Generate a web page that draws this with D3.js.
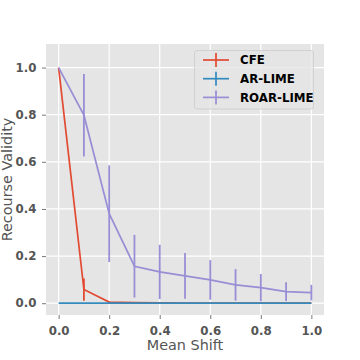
<!DOCTYPE html>
<html>
<head>
<meta charset="UTF-8">
<title>recourse validity</title>
<script src="https://cdn.jsdelivr.net/npm/d3@7"></script>
<style>
  body { margin: 0; background: #fff; }
  text { font-family: "DejaVu Sans", sans-serif; }
</style>
</head>
<body>
<svg id="chart" width="360" height="360"></svg>
<script>
// data
const shifts = [0.0, 0.1, 0.2, 0.3, 0.4, 0.5, 0.6, 0.7, 0.8, 0.9, 1.0];
const cfeMean = [1.0, 0.058, 0.005, 0.003, 0.002, 0.001, 0.001, 0.001, 0.0, 0.0, 0.0];
const cfeErr = [0.0, 0.047, 0.003, 0.0, 0.0, 0.0, 0.0, 0.0, 0.0, 0.0, 0.0];
const arMean = [0, 0, 0, 0, 0, 0, 0, 0, 0, 0, 0];
const arErr = [0, 0, 0, 0, 0, 0, 0, 0, 0, 0, 0];
const roarMean = [1.0, 0.798, 0.38, 0.157, 0.133, 0.116, 0.099, 0.078, 0.066, 0.049, 0.045];
const roarErr = [0.0, 0.175, 0.205, 0.133, 0.115, 0.097, 0.084, 0.067, 0.058, 0.040, 0.033];
const seriesNames = ["CFE", "AR-LIME", "ROAR-LIME"];
const xTicks = [0.0, 0.2, 0.4, 0.6, 0.8, 1.0];
const yTicks = [0.0, 0.2, 0.4, 0.6, 0.8, 1.0];

const colors = ["#E24A33", "#348ABD", "#988ED5"];
const series = [
  { name: seriesNames[0], mean: cfeMean, err: cfeErr },
  { name: seriesNames[1], mean: arMean, err: arErr },
  { name: seriesNames[2], mean: roarMean, err: roarErr }
];

const svg = d3.select("#chart");
const mLeft = 46, mRight = 324, mTop = 44, mBottom = 315;

const x = d3.scaleLinear().domain([-0.05, 1.05]).range([mLeft, mRight]);
const y = d3.scaleLinear().domain([-0.05, 1.1]).range([mBottom, mTop]);

// panel background
svg.append("rect")
  .attr("x", mLeft).attr("y", mTop)
  .attr("width", mRight - mLeft).attr("height", mBottom - mTop)
  .attr("fill", "#E5E5E5");

// grid
svg.append("g").selectAll("line").data(xTicks).join("line")
  .attr("x1", d => x(d)).attr("x2", d => x(d))
  .attr("y1", mTop).attr("y2", mBottom)
  .attr("stroke", "#fff").attr("stroke-width", 1.2);
svg.append("g").selectAll("line").data(yTicks).join("line")
  .attr("y1", d => y(d)).attr("y2", d => y(d))
  .attr("x1", mLeft).attr("x2", mRight)
  .attr("stroke", "#fff").attr("stroke-width", 1.2);

// axes
const xAxis = svg.append("g")
  .attr("transform", `translate(0,${mBottom})`)
  .call(d3.axisBottom(x).tickValues(xTicks).tickFormat(d3.format(".1f")).tickSize(4).tickPadding(7.5));
const yAxis = svg.append("g")
  .attr("transform", `translate(${mLeft},0)`)
  .call(d3.axisLeft(y).tickValues(yTicks).tickFormat(d3.format(".1f")).tickSize(4).tickPadding(5.5));
[xAxis, yAxis].forEach(g => {
  g.select(".domain").remove();
  g.selectAll(".tick line").attr("stroke", "#555").attr("stroke-width", 0.8);
  g.selectAll(".tick text")
    .attr("fill", "#555")
    .style("font-family", "DejaVu Sans")
    .style("font-size", "11.8px")
    .style("font-weight", "bold");
});

// axis labels
svg.append("text")
  .attr("x", (mLeft + mRight) / 2).attr("y", 349.5)
  .attr("text-anchor", "middle")
  .attr("fill", "#555")
  .style("font-size", "14.4px")
  .text("Mean Shift");
svg.append("text")
  .attr("transform", `translate(12,${(mTop + mBottom) / 2}) rotate(-90)`)
  .attr("text-anchor", "middle")
  .attr("fill", "#555")
  .style("font-size", "14.4px")
  .text("Recourse Validity");

// lines with error bars
const line = d3.line().x(d => x(d[0])).y(d => y(d[1]));
series.forEach((s, i) => {
  const pts = shifts.map((v, j) => [v, s.mean[j], s.err[j]]);
  const g = svg.append("g");
  g.append("path")
    .attr("d", line(pts))
    .attr("fill", "none")
    .attr("stroke", colors[i])
    .attr("stroke-width", 1.7);
  g.selectAll("line").data(pts.filter(p => p[2] > 0)).join("line")
    .attr("x1", d => x(d[0])).attr("x2", d => x(d[0]))
    .attr("y1", d => y(d[1] - d[2])).attr("y2", d => y(d[1] + d[2]))
    .attr("stroke", colors[i])
    .attr("stroke-width", 1.8);
});

// legend
const lg = svg.append("g");
lg.append("rect")
  .attr("x", 194.5).attr("y", 50.5)
  .attr("width", 119).attr("height", 58.5)
  .attr("rx", 2.5)
  .attr("fill", "#E5E5E5").attr("fill-opacity", 0.8)
  .attr("stroke", "#CCCCCC").attr("stroke-width", 0.8);
series.forEach((s, i) => {
  const yy = 60 + i * 18.7;
  lg.append("line")
    .attr("x1", 203).attr("x2", 229).attr("y1", yy).attr("y2", yy)
    .attr("stroke", colors[i]).attr("stroke-width", 1.7);
  lg.append("line")
    .attr("x1", 216).attr("x2", 216).attr("y1", yy - 7).attr("y2", yy + 7)
    .attr("stroke", colors[i]).attr("stroke-width", 1.7);
  lg.append("text")
    .attr("x", 240).attr("y", yy + 4.3)
    .attr("fill", "#000")
    .style("font-size", "11.8px")
    .style("font-weight", "bold")
    .text(s.name);
});
</script>
</body>
</html>
